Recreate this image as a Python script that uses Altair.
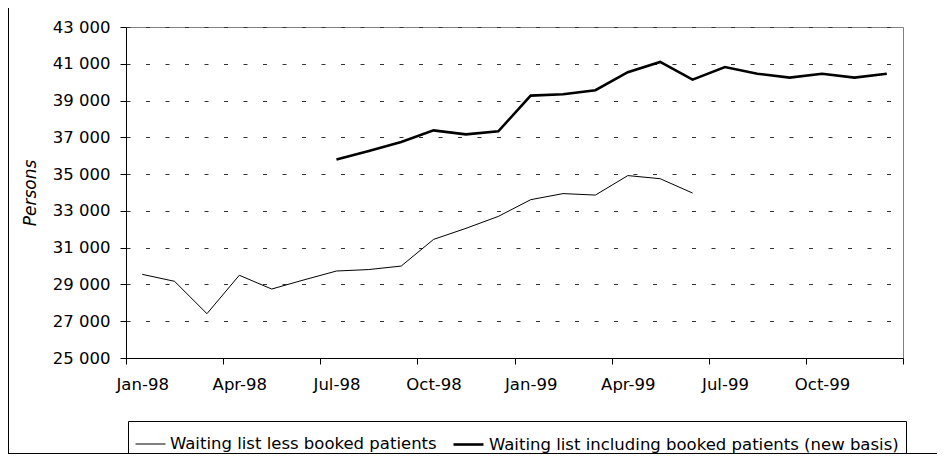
import altair as alt
import pandas as pd

months = ["Jan-98", "Feb-98", "Mar-98", "Apr-98", "May-98", "Jun-98",
          "Jul-98", "Aug-98", "Sep-98", "Oct-98", "Nov-98", "Dec-98",
          "Jan-99", "Feb-99", "Mar-99", "Apr-99", "May-99", "Jun-99",
          "Jul-99", "Aug-99", "Sep-99", "Oct-99", "Nov-99", "Dec-99"]

series_thin = "Waiting list less booked patients"
series_thick = "Waiting list including booked patients (new basis)"

# Jan-98 .. Jun-99
thin_values = [29550, 29170, 27410, 29500, 28750, 29250, 29730, 29810, 30000,
               31450, 32050, 32700, 33610, 33940, 33860, 34920, 34750, 33970]
thin_start = 0
# Jul-98 .. Dec-99
thick_values = [35790, 36260, 36750, 37380, 37160, 37330, 39270, 39340, 39560,
                40540, 41100, 40140, 40820, 40460, 40250, 40460, 40250, 40460]
thick_start = 6

tick_labels = ["Jan-98", "Apr-98", "Jul-98", "Oct-98", "Jan-99", "Apr-99", "Jul-99", "Oct-99"]
y_ticks = list(range(25000, 43001, 2000))

rows = []
for i, v in enumerate(thin_values):
    rows.append({"month": months[thin_start + i], "pos": thin_start + i + 0.5, "value": v, "series": series_thin})
for i, v in enumerate(thick_values):
    rows.append({"month": months[thick_start + i], "pos": thick_start + i + 0.5, "value": v, "series": series_thick})
df = pd.DataFrame(rows)

W, H = 777, 331
FS = 16.5
label_array = "[" + ",".join("'%s'" % t for t in tick_labels) + "]"

lines = alt.Chart(df).mark_line(color="black").encode(
    x=alt.X("pos:Q",
            scale=alt.Scale(domain=[0, 24], nice=False, zero=False),
            axis=alt.Axis(values=list(range(0, 25, 3)), title=None, grid=False,
                          labelExpr="datum.value < 24 ? " + label_array + "[datum.value / 3] : ''",
                          labelOffset=W / 48, labelFlush=False, labelOverlap=False,
                          labelFontSize=FS, labelColor="black", labelFont="DejaVu Sans",
                          labelPadding=12, tickSize=6, domainColor="black", tickColor="black")),
    y=alt.Y("value:Q",
            scale=alt.Scale(domain=[25000, 43000], nice=False, zero=False),
            axis=alt.Axis(values=y_ticks, title="Persons",
                          labelExpr="replace(format(datum.value, ','), ',', ' ')",
                          labelFontSize=FS, labelColor="black", labelFont="DejaVu Sans",
                          labelPadding=10, tickSize=6, domainColor="black", tickColor="black",
                          grid=True, gridDash=[4, 15.5], gridColor="#333333", gridWidth=1,
                          titleFont="DejaVu Sans", titleColor="black",
                          titleFontStyle="italic", titleFontWeight="normal", titleFontSize=17,
                          titlePadding=13)),
    strokeWidth=alt.StrokeWidth("series:O",
                                scale=alt.Scale(domain=[series_thin, series_thick], range=[1, 2.6]),
                                legend=alt.Legend(title=None, orient="none", direction="horizontal",
                                                  legendX=2, legendY=394,
                                                  symbolType="stroke", symbolSize=900,
                                                  symbolStrokeColor="black",
                                                  labelOffset=4, columnPadding=11, padding=7,
                                                  labelLimit=0,
                                                  strokeColor="black", labelFontSize=FS,
                                                  labelFont="DejaVu Sans",
                                                  labelColor="black")),
    detail="series:N",
    order="pos:Q",
)

frame_df = pd.DataFrame({"k": [0]})
left_border = alt.Chart(frame_df).mark_rule(color="black", strokeWidth=1).encode(
    x=alt.value(-117.5), y=alt.value(-19), y2=alt.value(426.5))
bottom_border = alt.Chart(frame_df).mark_rule(color="black", strokeWidth=1).encode(
    x=alt.value(-118), x2=alt.value(811), y=alt.value(426.5))

chart = alt.layer(lines, left_border, bottom_border).properties(
    width=W, height=H,
    autosize="none",
    padding={"left": 118, "top": 19, "right": 34, "bottom": 96},
    background="white",
).configure(font="DejaVu Sans").configure_view(
    stroke="#808080", strokeWidth=1
)

chart.save("out.html", embed_options={"renderer": "svg", "actions": False})
